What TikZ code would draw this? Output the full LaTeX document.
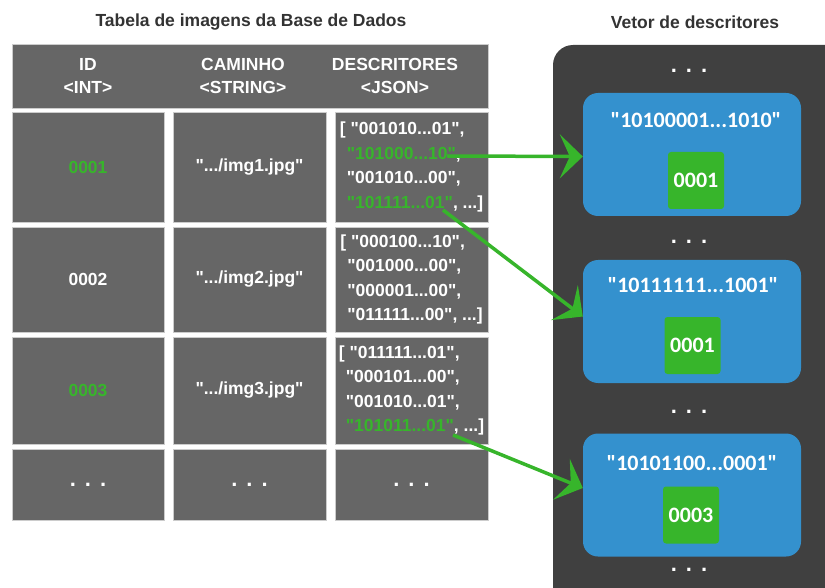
\documentclass[tikz,border=0pt]{standalone}
\usepackage{fontspec}
\setmainfont{Liberation Sans}[Ligatures=TeXOff]
\newfontfamily\carlito{Carlito}[Ligatures=TeXOff]
\usepackage{tikz}
\usetikzlibrary{scopes,arrows.meta}
\definecolor{cinza}{HTML}{666666}
\definecolor{escuro}{HTML}{404040}
\definecolor{azul}{HTML}{3491CE}
\definecolor{verde}{HTML}{37B52B}
\definecolor{titulo}{HTML}{333333}
\newcommand{\tres}{.\hspace{9pt}.\hspace{9pt}.}
\newcommand{\vd}[1]{\textcolor{verde}{#1}}
\newcommand{\ind}{\hspace*{7pt}}

\begin{document}
\begin{tikzpicture}[x=1pt,y=-1pt,
    tit/.style={text=titulo,font=\bfseries\fontsize{17.5}{21}\selectfont},
    cel/.style={rectangle,draw=black!20,fill=cinza,text=white,align=left,inner sep=0pt,
        font=\bfseries\fontsize{17.5}{24.5}\selectfont,minimum width=153pt},
    cab/.style={text=white,align=center,font=\bfseries\fontsize{17.5}{23}\selectfont},
    vet/.style={rectangle,fill=azul,rounded corners=15pt,minimum width=218pt,minimum height=123pt},
    cod/.style={text=white,font=\carlito\bfseries\fontsize{22}{26}\selectfont},
    idv/.style={rectangle,fill=verde,rounded corners=3pt,minimum width=56pt,minimum height=57pt,
        inner sep=0pt,text=white,font=\carlito\bfseries\fontsize{22}{26}\selectfont},
    pts/.style={text=white,font=\bfseries\fontsize{22}{26}\selectfont},
    seta/.style={draw=verde,line width=3.5pt,-{Stealth[length=23pt,width=44pt,inset=10pt]}},
]
    \useasboundingbox (0,0) rectangle (825,588);
    \node[tit] (t1) at (251,22) {Tabela de imagens da Base de Dados};
    \node[tit] (t2) at (695,22) {Vetor de descritores};

    % tabela
    \node[cel,minimum width=476pt,minimum height=64pt] (cab) at (250,76) {};
    \node[cab] (c1) at (88,76) {ID\\<INT>};
    \node[cab] (c2) at (243,76) {CAMINHO\\<STRING>};
    \node[cab] (c3) at (395,76) {DESCRITORES\\<JSON>};

    \node[cel,minimum width=152pt,minimum height=110pt] (id1) at (88,167) {\vd{0001}};
    \node[cel,minimum height=110pt] (p1) at (249.5,167) {".../img1.jpg"};
    \node[cel,minimum height=110pt] (d1) at (411.5,167)
        {[ "001010...01",\\\ind\vd{"101000...10"},\\\ind"001010...00",\\\ind\vd{"101111...01"}, ...]};

    \node[cel,minimum width=152pt,minimum height=105pt] (id2) at (88,279.5) {0002};
    \node[cel,minimum height=105pt] (p2) at (249.5,279.5) {".../img2.jpg"};
    \node[cel,minimum height=105pt] (d2) at (411.5,279.5)
        {[ "000100...10",\\\ind"001000...00",\\\ind"000001...00",\\\ind"011111...00", ...]};

    \node[cel,minimum width=152pt,minimum height=107pt] (id3) at (88,390.5) {\vd{0003}};
    \node[cel,minimum height=107pt] (p3) at (249.5,390.5) {".../img3.jpg"};
    \node[cel,minimum height=107pt] (d3) at (411.5,390.5)
        {[ "011111...01",\\\ind"000101...00",\\\ind"001010...01",\\\ind\vd{"101011...01"}, ...]};

    \node[cel,pts,minimum width=152pt,minimum height=71pt] (id4) at (88,484.5) {\tres};
    \node[cel,pts,minimum height=71pt] (p4) at (249.5,484.5) {\tres};
    \node[cel,pts,minimum height=71pt] (d4) at (411.5,484.5) {\tres};

    % vetor de descritores
    \fill[escuro,rounded corners=20pt] (553,45) rectangle (870,640);
    \node[pts] (v0) at (689,71) {\tres};
    \node[vet] (b1) at (692,154.5) {};
    \node[cod] (h1) at (696,120) {"10100001...1010"};
    \node[idv] (g1) at (696,180.5) {0001};
    \node[pts] (v1) at (689,242) {\tres};
    \node[vet] (b2) at (692,321.5) {};
    \node[cod] (h2) at (693,285) {"10111111...1001"};
    \node[idv] (g2) at (692.5,345.5) {0001};
    \node[pts] (v2) at (689,412) {\tres};
    \node[vet] (b3) at (692,495) {};
    \node[cod] (h3) at (692,463) {"10101100...0001"};
    \node[idv] (g3) at (691,515) {0003};
    \node[pts] (v3) at (689,570) {\tres};

    \coordinate (s1) at (447,156);
    \coordinate (s2) at (443,210);
    \coordinate (s3) at (453,435);
    {[seta]
        \draw (s1) -- ([yshift=-2pt]b1.west);
        \draw (s2) -- ([yshift=5pt]b2.west);
        \draw (s3) -- ([yshift=7pt]b3.west);
    }
\end{tikzpicture}
\end{document}
